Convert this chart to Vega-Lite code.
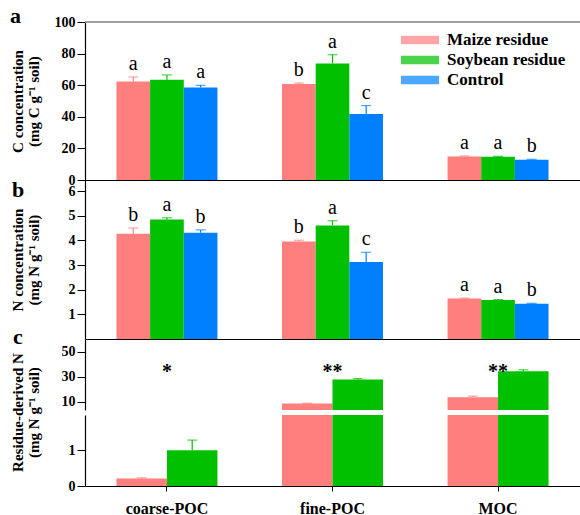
{
  "$schema": "https://vega.github.io/schema/vega-lite/v6.json",
  "background": "white",
  "padding": {"left": 10, "top": 5, "right": 0, "bottom": 0},
  "config": {
    "view": {"stroke": null},
    "font": "Liberation Serif",
    "axis": {
      "grid": false,
      "domainColor": "black",
      "tickColor": "black",
      "labelColor": "black",
      "titleColor": "black",
      "labelFont": "Liberation Serif",
      "labelFontWeight": "bold",
      "labelFontSize": 14,
      "labelOverlap": false,
      "labelFlush": false,
      "labelBound": false,
      "labelPadding": 2,
      "titleFont": "Liberation Serif",
      "titleFontWeight": "bold",
      "titleFontSize": 15,
      "titleLineHeight": 16,
      "domainWidth": 1.2,
      "tickSize": 8
    }
  },
  "datasets": {
    "cA": [
      {"fraction": "coarse-POC", "treatment": "Maize residue", "mean": 62.3, "se": 2.9, "letter": "a"},
      {"fraction": "coarse-POC", "treatment": "Soybean residue", "mean": 63.5, "se": 3.0, "letter": "a"},
      {"fraction": "coarse-POC", "treatment": "Control", "mean": 58.5, "se": 1.4, "letter": "a"},
      {"fraction": "fine-POC", "treatment": "Maize residue", "mean": 60.8, "se": 0.6, "letter": "b"},
      {"fraction": "fine-POC", "treatment": "Soybean residue", "mean": 73.8, "se": 5.5, "letter": "a"},
      {"fraction": "fine-POC", "treatment": "Control", "mean": 41.8, "se": 5.3, "letter": "c"},
      {"fraction": "MOC", "treatment": "Maize residue", "mean": 14.9, "se": 0.3, "letter": "a"},
      {"fraction": "MOC", "treatment": "Soybean residue", "mean": 14.7, "se": 0.3, "letter": "a"},
      {"fraction": "MOC", "treatment": "Control", "mean": 12.8, "se": 0.3, "letter": "b"}
    ],
    "nB": [
      {"fraction": "coarse-POC", "treatment": "Maize residue", "mean": 4.27, "se": 0.24, "letter": "b"},
      {"fraction": "coarse-POC", "treatment": "Soybean residue", "mean": 4.85, "se": 0.07, "letter": "a"},
      {"fraction": "coarse-POC", "treatment": "Control", "mean": 4.31, "se": 0.12, "letter": "b"},
      {"fraction": "fine-POC", "treatment": "Maize residue", "mean": 3.96, "se": 0.05, "letter": "b"},
      {"fraction": "fine-POC", "treatment": "Soybean residue", "mean": 4.61, "se": 0.19, "letter": "a"},
      {"fraction": "fine-POC", "treatment": "Control", "mean": 3.13, "se": 0.39, "letter": "c"},
      {"fraction": "MOC", "treatment": "Maize residue", "mean": 1.64, "se": 0.02, "letter": "a"},
      {"fraction": "MOC", "treatment": "Soybean residue", "mean": 1.58, "se": 0.02, "letter": "a"},
      {"fraction": "MOC", "treatment": "Control", "mean": 1.43, "se": 0.02, "letter": "b"}
    ],
    "rC": [
      {"fraction": "coarse-POC", "treatment": "Maize residue", "mean": 0.21, "se": 0.02},
      {"fraction": "coarse-POC", "treatment": "Soybean residue", "mean": 1.0, "se": 0.28},
      {"fraction": "fine-POC", "treatment": "Maize residue", "mean": 8.6, "se": 0.3},
      {"fraction": "fine-POC", "treatment": "Soybean residue", "mean": 27.8, "se": 0.8},
      {"fraction": "MOC", "treatment": "Maize residue", "mean": 13.7, "se": 0.8},
      {"fraction": "MOC", "treatment": "Soybean residue", "mean": 34.5, "se": 1.1}
    ],
    "sig": [
      {"fraction": "coarse-POC", "sig": "*"},
      {"fraction": "fine-POC", "sig": "**"},
      {"fraction": "MOC", "sig": "**"}
    ]
  },
  "spacing": 0,
  "bounds": "flush",
  "resolve": {"scale": {"x": "independent", "y": "independent", "color": "independent", "xOffset": "independent"}},
  "vconcat": [
    {
      "width": 495,
      "height": 158,
      "title": {"text": "a", "anchor": "start", "frame": "group", "orient": "top", "offset": 2, "dx": -75, "dy": 32, "baseline": "alphabetic", "fontSize": 22, "fontWeight": "bold", "font": "Liberation Serif", "color": "black"},
      "data": {"name": "cA"},
      "transform": [{"calculate": "datum.mean + datum.se", "as": "hi"}],
      "layer": [
        {
          "mark": {"type": "bar"},
          "encoding": {
            "x": {"field": "fraction", "type": "nominal", "sort": ["coarse-POC", "fine-POC", "MOC"], "scale": {"paddingInner": 0.39, "paddingOuter": 0.19}, "axis": {"title": null, "labels": false, "ticks": false}},
            "xOffset": {"field": "treatment", "type": "nominal", "scale": {"domain": ["Maize residue", "Soybean residue", "Control"], "paddingInner": 0, "paddingOuter": 0}},
            "y": {"field": "mean", "type": "quantitative", "scale": {"domain": [0, 100], "nice": false}, "axis": {"values": [0, 20, 40, 60, 80, 100], "tickCount": 20, "format": "d", "labelOverlap": false, "title": ["C concentration", "(mg C g⁻¹ soil)"], "titleX": -60, "titleBaseline": "bottom", "titleAngle": -90}},
            "color": {"field": "treatment", "type": "nominal", "scale": {"domain": ["Maize residue", "Soybean residue", "Control"], "range": ["#FF7F7F", "#00C000", "#0080FF"]},
              "legend": {"orient": "none", "legendX": 316, "legendY": 8, "title": null, "symbolType": "M-1,-0.22H1V0.22H-1Z", "symbolSize": 1444, "symbolStrokeWidth": 0, "symbolOpacity": 1, "labelFont": "Liberation Serif", "labelFontWeight": "bold", "labelFontSize": 17, "labelColor": "black", "clipHeight": 20, "rowPadding": 0, "labelOffset": 8, "padding": 0}}
          }
        },
        {
          "mark": {"type": "rule", "strokeWidth": 1.2},
          "encoding": {
            "x": {"field": "fraction", "type": "nominal", "sort": ["coarse-POC", "fine-POC", "MOC"]},
            "xOffset": {"field": "treatment", "type": "nominal"},
            "y": {"field": "mean", "type": "quantitative"},
            "y2": {"field": "hi"},
            "color": {"field": "treatment", "type": "nominal"}
          }
        },
        {
          "mark": {"type": "tick", "size": 10, "thickness": 1.2},
          "encoding": {
            "x": {"field": "fraction", "type": "nominal", "sort": ["coarse-POC", "fine-POC", "MOC"]},
            "xOffset": {"field": "treatment", "type": "nominal"},
            "y": {"field": "hi", "type": "quantitative"},
            "color": {"field": "treatment", "type": "nominal"}
          }
        },
        {
          "mark": {"type": "text", "baseline": "alphabetic", "dy": -7, "fontSize": 20, "font": "Liberation Serif", "fontWeight": "normal", "color": "black"},
          "encoding": {
            "x": {"field": "fraction", "type": "nominal", "sort": ["coarse-POC", "fine-POC", "MOC"]},
            "xOffset": {"field": "treatment", "type": "nominal"},
            "y": {"field": "hi", "type": "quantitative"},
            "text": {"field": "letter"}
          }
        },
        {
          "data": {"values": [{}]},
          "mark": {"type": "rule", "color": "#808080", "strokeWidth": 1.5},
          "encoding": {"y": {"datum": 100}}
        }
      ]
    },
    {
      "width": 495,
      "height": 159,
      "title": {"text": "b", "anchor": "start", "frame": "group", "orient": "top", "offset": 0, "dx": -73, "dy": 39, "baseline": "alphabetic", "fontSize": 22, "fontWeight": "bold", "font": "Liberation Serif", "color": "black"},
      "data": {"name": "nB"},
      "transform": [{"calculate": "datum.mean + datum.se", "as": "hi"}],
      "layer": [
        {
          "mark": {"type": "bar"},
          "encoding": {
            "x": {"field": "fraction", "type": "nominal", "sort": ["coarse-POC", "fine-POC", "MOC"], "scale": {"paddingInner": 0.39, "paddingOuter": 0.19}, "axis": {"title": null, "labels": false, "ticks": false}},
            "xOffset": {"field": "treatment", "type": "nominal", "scale": {"domain": ["Maize residue", "Soybean residue", "Control"], "paddingInner": 0, "paddingOuter": 0}},
            "y": {"field": "mean", "type": "quantitative", "scale": {"domain": [0, 6.455], "nice": false}, "axis": {"values": [1, 2, 3, 4, 5, 6], "tickCount": 20, "format": "d", "labelOverlap": false, "title": ["N concentration", "(mg N g⁻¹ soil)"], "titleX": -60, "titleBaseline": "bottom", "titleAngle": -90}},
            "color": {"field": "treatment", "type": "nominal", "scale": {"domain": ["Maize residue", "Soybean residue", "Control"], "range": ["#FF7F7F", "#00C000", "#0080FF"]}, "legend": null}
          }
        },
        {
          "mark": {"type": "rule", "strokeWidth": 1.2},
          "encoding": {
            "x": {"field": "fraction", "type": "nominal", "sort": ["coarse-POC", "fine-POC", "MOC"]},
            "xOffset": {"field": "treatment", "type": "nominal"},
            "y": {"field": "mean", "type": "quantitative"},
            "y2": {"field": "hi"},
            "color": {"field": "treatment", "type": "nominal", "legend": null}
          }
        },
        {
          "mark": {"type": "tick", "size": 10, "thickness": 1.2},
          "encoding": {
            "x": {"field": "fraction", "type": "nominal", "sort": ["coarse-POC", "fine-POC", "MOC"]},
            "xOffset": {"field": "treatment", "type": "nominal"},
            "y": {"field": "hi", "type": "quantitative"},
            "color": {"field": "treatment", "type": "nominal", "legend": null}
          }
        },
        {
          "mark": {"type": "text", "baseline": "alphabetic", "dy": -7, "fontSize": 20, "font": "Liberation Serif", "fontWeight": "normal", "color": "black"},
          "encoding": {
            "x": {"field": "fraction", "type": "nominal", "sort": ["coarse-POC", "fine-POC", "MOC"]},
            "xOffset": {"field": "treatment", "type": "nominal"},
            "y": {"field": "hi", "type": "quantitative"},
            "text": {"field": "letter"}
          }
        }
      ]
    },
    {
      "spacing": 5,
      "bounds": "flush",
      "resolve": {"scale": {"x": "independent", "y": "independent", "color": "independent", "xOffset": "independent"}},
      "vconcat": [
        {
          "width": 495,
          "height": 71,
          "title": {"text": "c", "anchor": "start", "frame": "group", "orient": "top", "offset": 0, "dx": -72, "dy": 26.5, "baseline": "alphabetic", "fontSize": 22, "fontWeight": "bold", "font": "Liberation Serif", "color": "black"},
          "layer": [
            {
              "data": {"name": "rC"},
              "transform": [{"calculate": "datum.mean + datum.se", "as": "hi"}],
              "layer": [
                {
                  "mark": {"type": "bar", "clip": true},
                  "encoding": {
                    "x": {"field": "fraction", "type": "nominal", "sort": ["coarse-POC", "fine-POC", "MOC"], "scale": {"paddingInner": 0.39, "paddingOuter": 0.19}, "axis": null},
                    "xOffset": {"field": "treatment", "type": "nominal", "scale": {"domain": ["Maize residue", "Soybean residue"], "paddingInner": 0, "paddingOuter": 0}},
                    "y": {"field": "mean", "type": "quantitative", "scale": {"domain": [3.44, 60.24], "nice": false, "zero": false}, "axis": {"values": [10, 30, 50], "tickCount": 20, "format": "d", "labelOverlap": false, "title": null}},
                    "color": {"field": "treatment", "type": "nominal", "scale": {"domain": ["Maize residue", "Soybean residue", "Control"], "range": ["#FF7F7F", "#00C000", "#0080FF"]}, "legend": null}
                  }
                },
                {
                  "mark": {"type": "rule", "strokeWidth": 1.2, "clip": true},
                  "encoding": {
                    "x": {"field": "fraction", "type": "nominal", "sort": ["coarse-POC", "fine-POC", "MOC"]},
                    "xOffset": {"field": "treatment", "type": "nominal"},
                    "y": {"field": "mean", "type": "quantitative"},
                    "y2": {"field": "hi"},
                    "color": {"field": "treatment", "type": "nominal", "legend": null}
                  }
                },
                {
                  "mark": {"type": "tick", "size": 10, "thickness": 1.2, "clip": true},
                  "encoding": {
                    "x": {"field": "fraction", "type": "nominal", "sort": ["coarse-POC", "fine-POC", "MOC"]},
                    "xOffset": {"field": "treatment", "type": "nominal"},
                    "y": {"field": "hi", "type": "quantitative"},
                    "color": {"field": "treatment", "type": "nominal", "legend": null}
                  }
                }
              ]
            },
            {
              "data": {"name": "sig"},
              "mark": {"type": "text", "baseline": "alphabetic", "fontSize": 20, "font": "Liberation Serif", "fontWeight": "bold", "color": "black"},
              "encoding": {
                "x": {"field": "fraction", "type": "nominal", "sort": ["coarse-POC", "fine-POC", "MOC"]},
                "y": {"datum": 29},
                "text": {"field": "sig"}
              }
            }
          ]
        },
        {
          "width": 495,
          "height": 71,
          "data": {"name": "rC"},
          "transform": [{"calculate": "datum.mean + datum.se", "as": "hi"}],
          "layer": [
            {
              "mark": {"type": "bar", "clip": true},
              "encoding": {
                "x": {"field": "fraction", "type": "nominal", "sort": ["coarse-POC", "fine-POC", "MOC"], "scale": {"paddingInner": 0.39, "paddingOuter": 0.19}, "axis": {"title": null, "labelFontSize": 16, "labelAngle": 0, "tickSize": 5, "labelPadding": 9}},
                "xOffset": {"field": "treatment", "type": "nominal", "scale": {"domain": ["Maize residue", "Soybean residue"], "paddingInner": 0, "paddingOuter": 0}},
                "y": {"field": "mean", "type": "quantitative", "scale": {"domain": [0, 1.98], "nice": false}, "axis": {"values": [0, 1], "tickCount": 20, "format": "d", "labelOverlap": false, "title": ["Residue-derived N", "(mg N g⁻¹ soil)"], "titleX": -60, "titleY": -3, "titleBaseline": "bottom", "titleAngle": -90}},
                "color": {"field": "treatment", "type": "nominal", "scale": {"domain": ["Maize residue", "Soybean residue", "Control"], "range": ["#FF7F7F", "#00C000", "#0080FF"]}, "legend": null}
              }
            },
            {
              "mark": {"type": "rule", "strokeWidth": 1.2, "clip": true},
              "encoding": {
                "x": {"field": "fraction", "type": "nominal", "sort": ["coarse-POC", "fine-POC", "MOC"]},
                "xOffset": {"field": "treatment", "type": "nominal"},
                "y": {"field": "mean", "type": "quantitative"},
                "y2": {"field": "hi"},
                "color": {"field": "treatment", "type": "nominal", "legend": null}
              }
            },
            {
              "mark": {"type": "tick", "size": 10, "thickness": 1.2, "clip": true},
              "encoding": {
                "x": {"field": "fraction", "type": "nominal", "sort": ["coarse-POC", "fine-POC", "MOC"]},
                "xOffset": {"field": "treatment", "type": "nominal"},
                "y": {"field": "hi", "type": "quantitative"},
                "color": {"field": "treatment", "type": "nominal", "legend": null}
              }
            }
          ]
        }
      ]
    }
  ]
}
